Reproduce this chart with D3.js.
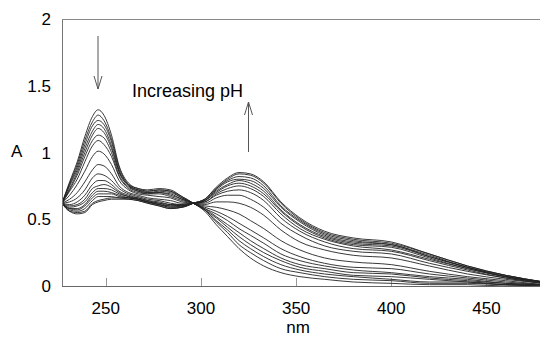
<!DOCTYPE html>
<html>
<head>
<meta charset="utf-8">
<script src="https://cdn.jsdelivr.net/npm/d3@7"></script>
<style>
html,body{margin:0;padding:0;background:#fff;}
svg{display:block;font-family:"Liberation Sans",Arial,sans-serif;}
</style>
</head>
<body>
<svg id="chart" width="540" height="337"></svg>
<script>
// Wavelengths (nm)
const wavelengths = [227,231,235,239,243,246,249,253,257,262,267,272,278,284,290,296,302,308,314,320,326,333,342,352,365,380,400,420,440,460,480];

// Absorbance spectra, lowest pH first
const s01 = [0.62,0.78,0.93,1.12,1.27,1.32,1.28,1.13,0.90,0.77,0.73,0.72,0.73,0.72,0.67,0.62,0.56,0.46,0.37,0.28,0.21,0.15,0.10,0.07,0.05,0.03,0.02,0.01,0.01,0.00,0.00];
const s02 = [0.62,0.77,0.91,1.09,1.23,1.28,1.24,1.10,0.89,0.76,0.73,0.71,0.72,0.71,0.67,0.62,0.57,0.48,0.40,0.31,0.25,0.19,0.13,0.10,0.07,0.05,0.04,0.02,0.02,0.01,0.00];
const s03 = [0.62,0.76,0.89,1.06,1.20,1.24,1.21,1.08,0.87,0.76,0.72,0.71,0.72,0.71,0.66,0.62,0.57,0.49,0.42,0.34,0.28,0.22,0.16,0.12,0.09,0.07,0.05,0.03,0.03,0.01,0.00];
const s04 = [0.62,0.75,0.87,1.03,1.16,1.21,1.18,1.05,0.86,0.75,0.72,0.70,0.71,0.70,0.66,0.62,0.57,0.51,0.44,0.37,0.31,0.25,0.19,0.14,0.11,0.08,0.07,0.05,0.03,0.01,0.01];
const s05 = [0.62,0.73,0.85,1.00,1.13,1.18,1.15,1.03,0.85,0.75,0.71,0.70,0.70,0.69,0.65,0.62,0.58,0.52,0.46,0.40,0.34,0.28,0.21,0.16,0.13,0.10,0.09,0.06,0.04,0.02,0.01];
const s06 = [0.62,0.72,0.83,0.97,1.09,1.13,1.11,1.00,0.83,0.74,0.71,0.69,0.70,0.68,0.65,0.62,0.58,0.54,0.49,0.43,0.38,0.32,0.24,0.19,0.15,0.12,0.10,0.07,0.05,0.02,0.01];
const s07 = [0.62,0.71,0.80,0.93,1.05,1.09,1.06,0.97,0.82,0.73,0.70,0.69,0.69,0.67,0.64,0.62,0.59,0.56,0.52,0.47,0.42,0.36,0.28,0.22,0.17,0.14,0.13,0.09,0.06,0.03,0.01];
const s08 = [0.62,0.68,0.76,0.86,0.97,1.01,0.99,0.91,0.79,0.72,0.69,0.68,0.67,0.66,0.63,0.62,0.60,0.59,0.57,0.54,0.49,0.43,0.34,0.27,0.21,0.18,0.16,0.11,0.07,0.04,0.01];
const s09 = [0.62,0.65,0.70,0.78,0.87,0.91,0.90,0.84,0.75,0.70,0.68,0.66,0.65,0.64,0.62,0.62,0.61,0.63,0.63,0.62,0.59,0.53,0.42,0.33,0.27,0.23,0.21,0.15,0.09,0.05,0.02];
const s10 = [0.62,0.63,0.66,0.72,0.81,0.84,0.83,0.79,0.73,0.69,0.67,0.65,0.64,0.62,0.61,0.62,0.62,0.66,0.68,0.68,0.65,0.59,0.47,0.38,0.30,0.26,0.24,0.17,0.11,0.06,0.02];
const s11 = [0.62,0.61,0.63,0.68,0.76,0.79,0.79,0.76,0.71,0.68,0.66,0.64,0.63,0.61,0.61,0.62,0.63,0.68,0.71,0.72,0.70,0.64,0.51,0.41,0.33,0.28,0.26,0.19,0.12,0.06,0.02];
const s12 = [0.62,0.60,0.61,0.65,0.73,0.75,0.76,0.74,0.70,0.67,0.66,0.64,0.62,0.61,0.60,0.62,0.63,0.69,0.73,0.75,0.73,0.67,0.54,0.43,0.35,0.30,0.27,0.20,0.13,0.07,0.02];
const s13 = [0.62,0.59,0.60,0.63,0.70,0.73,0.73,0.72,0.69,0.67,0.65,0.63,0.62,0.60,0.60,0.62,0.64,0.70,0.75,0.77,0.75,0.69,0.56,0.45,0.36,0.31,0.29,0.21,0.13,0.07,0.03];
const s14 = [0.62,0.58,0.58,0.61,0.68,0.71,0.71,0.70,0.68,0.66,0.65,0.63,0.61,0.60,0.60,0.62,0.64,0.71,0.76,0.79,0.77,0.71,0.57,0.46,0.37,0.32,0.30,0.22,0.14,0.07,0.03];
const s15 = [0.62,0.58,0.57,0.60,0.66,0.69,0.69,0.69,0.67,0.66,0.65,0.63,0.61,0.59,0.60,0.62,0.64,0.72,0.78,0.80,0.79,0.73,0.59,0.48,0.38,0.33,0.31,0.22,0.14,0.07,0.03];
const s16 = [0.62,0.57,0.56,0.58,0.64,0.67,0.67,0.67,0.66,0.66,0.65,0.63,0.61,0.59,0.59,0.62,0.65,0.73,0.79,0.82,0.81,0.75,0.60,0.49,0.39,0.34,0.31,0.23,0.14,0.08,0.03];
const s17 = [0.62,0.56,0.55,0.56,0.62,0.64,0.65,0.66,0.66,0.65,0.64,0.62,0.60,0.58,0.59,0.62,0.65,0.73,0.80,0.84,0.83,0.77,0.62,0.50,0.40,0.35,0.32,0.24,0.15,0.08,0.03];
const s18 = [0.62,0.56,0.54,0.55,0.61,0.63,0.64,0.65,0.65,0.65,0.64,0.62,0.60,0.58,0.59,0.62,0.65,0.74,0.81,0.85,0.84,0.78,0.63,0.51,0.41,0.36,0.33,0.24,0.15,0.08,0.03];
const spectra = [s01,s02,s03,s04,s05,s06,s07,s08,s09,s10,s11,s12,s13,s14,s15,s16,s17,s18];

// Axis tick labels
const xTicks = [250,300,350,400,450];
const yTicks = [0,0.5,1,1.5,2];
const yTickLabels = ["0","0.5","1","1.5","2"];

const svg = d3.select("#chart");
const mLeft = 62, mTop = 19, mBottom = 286, mRight = 540;

const x = d3.scaleLinear().domain([227,480]).range([mLeft, mLeft + 253*1.9035]);
const y = d3.scaleLinear().domain([0,2]).range([mBottom, mTop]);

svg.append("defs").append("clipPath").attr("id","clip")
  .append("rect").attr("x",mLeft).attr("y",mTop).attr("width",mRight-mLeft).attr("height",mBottom-mTop);

// x ticks (small inward ticks)
svg.append("g").selectAll("line").data(xTicks).join("line")
  .attr("x1",d=>Math.round(x(d))+0.5).attr("x2",d=>Math.round(x(d))+0.5)
  .attr("y1",mBottom).attr("y2",mBottom-8)
  .attr("stroke","#999").attr("stroke-width",1);

// spectra
const line = d3.line()
  .x((d,i)=>x(wavelengths[i]))
  .y(d=>y(d))
  .curve(d3.curveMonotoneX);

svg.append("g").attr("clip-path","url(#clip)")
  .selectAll("path").data(spectra).join("path")
  .attr("d",line)
  .attr("fill","none")
  .attr("stroke","#222")
  .attr("stroke-width",0.9);

// frame: top, left, bottom
svg.append("line").attr("x1",mLeft+0.5).attr("x2",mLeft+0.5).attr("y1",mTop).attr("y2",mBottom)
  .attr("stroke","#777").attr("stroke-width",1);
svg.append("line").attr("x1",mLeft).attr("x2",mRight).attr("y1",mTop+0.5).attr("y2",mTop+0.5)
  .attr("stroke","#888").attr("stroke-width",1);
svg.append("line").attr("x1",mLeft).attr("x2",mRight).attr("y1",mBottom+0.5).attr("y2",mBottom+0.5)
  .attr("stroke","#666").attr("stroke-width",1);

// tick labels
svg.append("g").selectAll("text").data(xTicks).join("text")
  .attr("x",d=>x(d)).attr("y",314)
  .attr("text-anchor","middle").attr("font-size",17).attr("fill","#000")
  .text(d=>d);
svg.append("g").selectAll("text").data(yTicks).join("text")
  .attr("x",51).attr("y",d=>y(d)+6)
  .attr("text-anchor","end").attr("font-size",17).attr("fill","#000")
  .text((d,i)=>yTickLabels[i]);

// axis titles
svg.append("text").attr("x",11).attr("y",157).attr("font-size",17).text("A");
svg.append("text").attr("x",298).attr("y",333).attr("text-anchor","middle").attr("font-size",17).text("nm");

// annotation
svg.append("text").attr("x",132).attr("y",97).attr("font-size",18).text("Increasing pH");

function arrow(xp, y0, y1) {
  const dir = y1 > y0 ? 1 : -1;
  const g = svg.append("g").attr("stroke","#555").attr("stroke-width",1).attr("fill","none");
  g.append("line").attr("x1",xp).attr("x2",xp).attr("y1",y0).attr("y2",y1);
  g.append("polyline").attr("points",
    `${xp-4},${y1-dir*13} ${xp},${y1} ${xp+4},${y1-dir*13}`);
}
arrow(98, 36, 89);
arrow(248.5, 152, 102);
</script>
</body>
</html>
